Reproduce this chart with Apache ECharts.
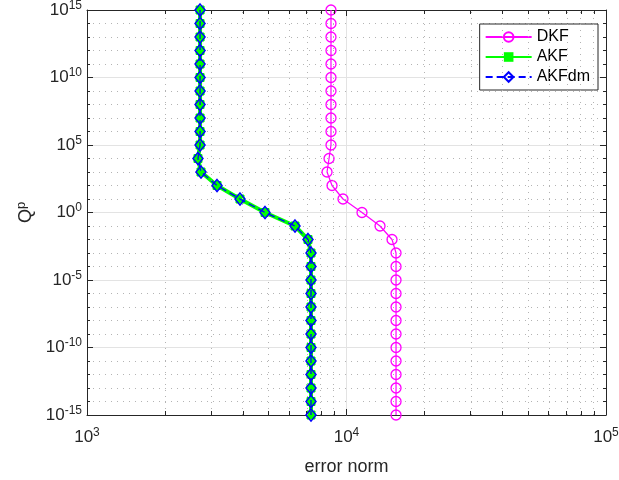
<!DOCTYPE html>
<html>
<head>
<meta charset="utf-8">
<script src="https://cdn.jsdelivr.net/npm/echarts@6/dist/echarts.min.js"></script>
<style>html,body{margin:0;padding:0;background:#fff}#c{width:619px;height:480px}</style>
</head>
<body>
<div id="c"></div>
<script>
// Q^p values (y), from 1e15 down to 1e-15
var qValues = [1e15,1e14,1e13,1e12,1e11,1e10,1e9,1e8,1e7,1e6,1e5,1e4,1e3,1e2,1e1,1e0,1e-1,1e-2,1e-3,1e-4,1e-5,1e-6,1e-7,1e-8,1e-9,1e-10,1e-11,1e-12,1e-13,1e-14,1e-15];
// error norms (x)
var dkf   = [8714,8714,8714,8714,8714,8714,8714,8714,8714,8714,8714,8565,8414,8794,9694,11474,13462,14976,15520,15520,15520,15520,15520,15520,15520,15520,15520,15520,15520,15520,15520];
var akf   = [2727,2727,2727,2727,2727,2727,2727,2727,2727,2727,2727,2677,2750,3170,3887,4853,6333,7106,7298,7298,7298,7298,7298,7298,7298,7298,7298,7298,7298,7298,7298];
var akfdm = [2727,2727,2727,2727,2727,2727,2727,2727,2727,2727,2727,2677,2750,3170,3887,4853,6333,7106,7298,7298,7298,7298,7298,7298,7298,7298,7298,7298,7298,7298,7298];
// axis ranges and ticks (decades)
var xTicks = [1e3,1e4,1e5];
var yTicks = [1e-15,1e-10,1e-5,1e0,1e5,1e10,1e15];
var xMinor = [2000,3000,4000,5000,6000,7000,8000,9000,20000,30000,40000,50000,60000,70000,80000,90000];

var lg = function(v){ return Math.log10(v); };
function pairs(xs){ return xs.map(function(x,i){ return [lg(x), lg(qValues[i])]; }); }
var txt = '#262626';
var FF = 'Liberation Sans';
var rich = { b:{fontSize:17, color:txt, fontFamily:FF}, sup:{fontSize:12, color:txt, fontFamily:FF, verticalAlign:'top', padding:[0,0,9,0]} };
function powLabel(v){ var e = Math.round(v); return '{b|10}{sup|' + e + '}'; }

var xMin = lg(xTicks[0]), xMax = lg(xTicks[xTicks.length-1]);
var yMin = lg(yTicks[0]), yMax = lg(yTicks[yTicks.length-1]);
var tickLenY = (yMax - yMin) * 4 / 405;

var minorGrid = xMinor.map(function(v){ return {xAxis: lg(v)}; });
var minorTicks = [];
xMinor.forEach(function(v){
  minorTicks.push([{coord:[lg(v), yMin], lineStyle:{color:txt,type:'solid',width:1}}, {coord:[lg(v), yMin + tickLenY]}]);
  minorTicks.push([{coord:[lg(v), yMax], lineStyle:{color:txt,type:'solid',width:1}}, {coord:[lg(v), yMax - tickLenY]}]);
});

var chart = echarts.init(document.getElementById('c'), null, {renderer:'canvas'});
chart.setOption({
  animation:false,
  backgroundColor:'#fff',
  grid:{left:87, right:13, top:10, bottom:65, show:false, containLabel:false, outerBoundsMode:'none'},
  legend:{
    right:21, top:24, orient:'vertical', itemWidth:46, itemHeight:12, itemGap:4,
    backgroundColor:'#fff', borderColor:txt, borderWidth:1, padding:[5,8,5,5],
    textStyle:{fontSize:16, color:'#000', fontFamily:FF},
    data:['DKF','AKF','AKFdm']
  },
  xAxis:[{
    type:'value', min:xMin, max:xMax, interval:1,
    name:'error norm', nameLocation:'middle', nameGap:43,
    nameTextStyle:{fontSize:18, color:txt, fontFamily:FF},
    axisLine:{onZero:false, lineStyle:{color:txt}},
    axisTick:{inside:true, length:6, lineStyle:{color:txt}},
    axisLabel:{formatter:powLabel, rich:rich, margin:12},
    splitLine:{show:true, lineStyle:{color:'#e3e3e3', width:1}}
  },{
    type:'value', position:'top', min:xMin, max:xMax, interval:1,
    axisLine:{onZero:false, lineStyle:{color:txt}},
    axisTick:{inside:true, length:6, lineStyle:{color:txt}},
    axisLabel:{show:false}, splitLine:{show:false}
  }],
  yAxis:[{
    type:'value', min:yMin, max:yMax, interval:5,
    name:'Q{sup|p}', nameLocation:'middle', nameGap:50, nameRotate:90,
    nameTextStyle:{fontSize:18, color:txt, fontFamily:FF, rich:{sup:{fontSize:13,color:txt,verticalAlign:'top',padding:[0,0,9,0],fontFamily:FF}}},
    axisLine:{onZero:false, lineStyle:{color:txt}},
    axisTick:{inside:true, length:6, lineStyle:{color:txt}},
    minorTick:{show:true, splitNumber:5, length:3, lineStyle:{color:txt}},
    minorSplitLine:{show:true, lineStyle:{color:'#b4b4b4', type:[1,5], width:1}},
    axisLabel:{formatter:powLabel, rich:rich, margin:5},
    splitLine:{show:true, lineStyle:{color:'#e3e3e3', width:1}}
  },{
    type:'value', position:'right', min:yMin, max:yMax, interval:5,
    axisLine:{onZero:false, lineStyle:{color:txt}},
    axisTick:{inside:true, length:6, lineStyle:{color:txt}},
    minorTick:{show:true, splitNumber:5, length:3, lineStyle:{color:txt}},
    axisLabel:{show:false}, splitLine:{show:false}
  }],
  series:[
    {name:'DKF', type:'line', data:pairs(dkf), symbol:'circle', symbolSize:10,
     lineStyle:{color:'#ff00ff', width:1.2}, itemStyle:{color:'rgba(255,255,255,0)', borderColor:'#ff00ff', borderWidth:1.3},
     markLine:{silent:true, symbol:'none', label:{show:false}, animation:false,
       lineStyle:{color:'#b4b4b4', type:[1,5], width:1},
       data: minorGrid.concat(minorTicks)}, z:3},
    {name:'AKF', type:'line', data:pairs(akf), symbol:'rect', symbolSize:8,
     lineStyle:{color:'#00ff00', width:4}, itemStyle:{color:'#00ff00', borderColor:'#00ff00'}, z:4},
    {name:'AKFdm', type:'line', data:pairs(akfdm), symbol:'diamond', symbolSize:[10,12],
     lineStyle:{color:'#0000ff', width:1.3, type:[7,4]}, itemStyle:{color:'rgba(255,255,255,0)', borderColor:'#0000ff', borderWidth:1.5}, z:5}
  ]
});
</script>
</body>
</html>
